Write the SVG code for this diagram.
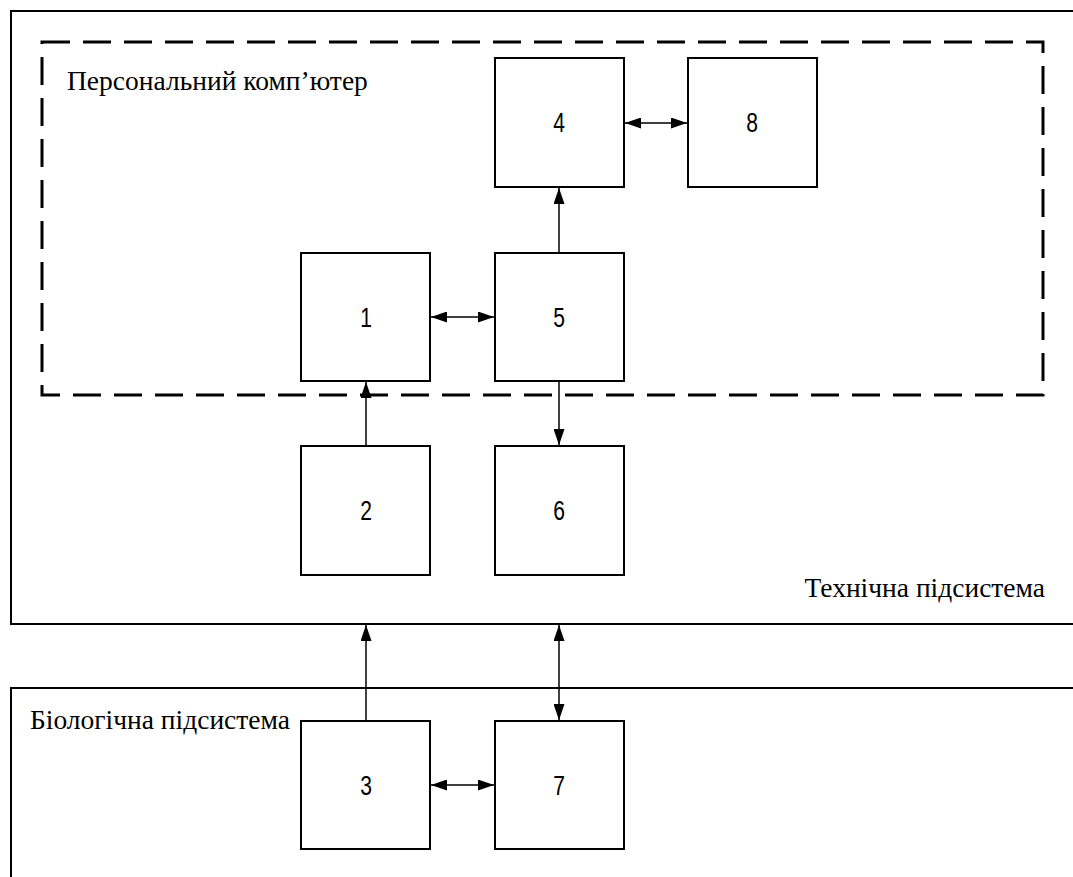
<svg xmlns="http://www.w3.org/2000/svg" width="1073" height="877" viewBox="0 0 1073 877">
<style>
.frame{fill:none;stroke:#000;stroke-width:2}
.dash{fill:none;stroke:#000;stroke-width:3;stroke-dasharray:28 13}
.box{fill:#fff;stroke:#000;stroke-width:2}
.num{font-family:"Liberation Sans",Arial,sans-serif;font-size:27px;text-anchor:middle}
.lbl{font-family:"Liberation Serif","Times New Roman",serif;font-size:27.5px}
.con{stroke:#000;stroke-width:1.5;fill:none}
</style>
<defs>
<marker id="ah" viewBox="0 0 16 11" refX="16" refY="5.5" markerWidth="16" markerHeight="11" markerUnits="userSpaceOnUse" orient="auto-start-reverse">
<path d="M0,0 L16,5.5 L0,11 Z" fill="#000"/>
</marker>
</defs>
<rect width="1073" height="877" fill="#fff"/>
<g id="tech">
<path class="frame" d="M1080,11 H11 V624 H1080"/>
<text class="lbl" x="1045" y="597" text-anchor="end">Технічна підсистема</text>
</g>
<g id="bio">
<path class="frame" d="M1080,688 H11 V890"/>
<text class="lbl" x="30" y="729">Біологічна підсистема</text>
</g>
<g id="pc">
<rect class="dash" x="42" y="42" width="1001" height="353"/>
<text class="lbl" x="67" y="90">Персональний комп’ютер</text>
</g>
<g id="n4"><rect class="box" x="495" y="58" width="129" height="129"/><text class="num" transform="translate(559,132) scale(0.78,1)">4</text></g>
<g id="n8"><rect class="box" x="688" y="58" width="129" height="129"/><text class="num" transform="translate(752,132) scale(0.78,1)">8</text></g>
<g id="n1"><rect class="box" x="301" y="253" width="129" height="128"/><text class="num" transform="translate(366,327) scale(0.78,1)">1</text></g>
<g id="n5"><rect class="box" x="495" y="253" width="129" height="128"/><text class="num" transform="translate(559,327) scale(0.78,1)">5</text></g>
<g id="n2"><rect class="box" x="301" y="446" width="129" height="129"/><text class="num" transform="translate(366,520) scale(0.78,1)">2</text></g>
<g id="n6"><rect class="box" x="495" y="446" width="129" height="129"/><text class="num" transform="translate(559,520) scale(0.78,1)">6</text></g>
<g id="n3"><rect class="box" x="301" y="721" width="129" height="128"/><text class="num" transform="translate(366,795) scale(0.78,1)">3</text></g>
<g id="n7"><rect class="box" x="495" y="721" width="129" height="128"/><text class="num" transform="translate(559,795) scale(0.78,1)">7</text></g>
<g id="connectors">
<line class="con" x1="625" y1="123" x2="687" y2="123" marker-start="url(#ah)" marker-end="url(#ah)"/>
<line class="con" x1="559" y1="253" x2="559" y2="188" marker-end="url(#ah)"/>
<line class="con" x1="431" y1="317" x2="494" y2="317" marker-start="url(#ah)" marker-end="url(#ah)"/>
<line class="con" x1="366" y1="446" x2="366" y2="382" marker-end="url(#ah)"/>
<line class="con" x1="559" y1="381" x2="559" y2="445" marker-end="url(#ah)"/>
<line class="con" x1="366" y1="721" x2="366" y2="625" marker-end="url(#ah)"/>
<line class="con" x1="559" y1="625" x2="559" y2="720" marker-start="url(#ah)" marker-end="url(#ah)"/>
<line class="con" x1="431" y1="785" x2="494" y2="785" marker-start="url(#ah)" marker-end="url(#ah)"/>
</g>
</svg>
